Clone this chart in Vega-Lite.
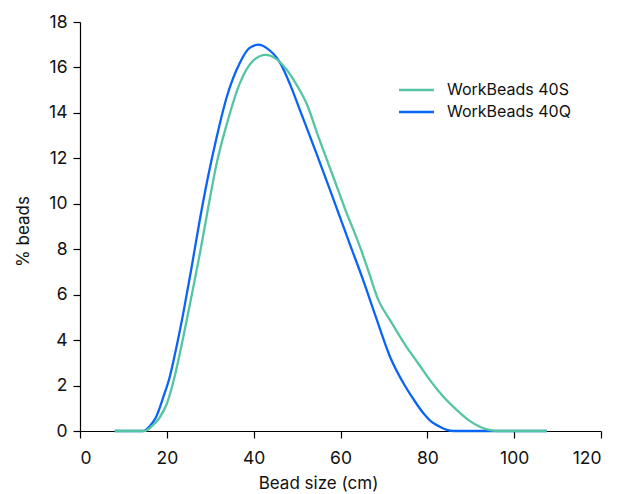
{
  "$schema": "https://vega.github.io/schema/vega-lite/v6.json",
  "autosize": "none",
  "width": 521,
  "height": 409,
  "padding": {"left": 80, "top": 22, "right": 16, "bottom": 63},
  "background": "white",
  "config": {
    "view": {"stroke": null},
    "font": "Inter",
    "axis": {
      "domainColor": "#000000",
      "domainWidth": 1.2,
      "tickColor": "#000000",
      "tickWidth": 1.2,
      "tickSize": 7,
      "labelFont": "Inter",
      "labelFontSize": 17.5,
      "labelColor": "#111111",
      "titleFont": "Inter",
      "titleFontSize": 17,
      "titleFontWeight": "normal",
      "titleColor": "#111111",
      "grid": false
    },
    "legend": {
      "labelFont": "Inter",
      "labelFontSize": 16,
      "labelColor": "#111111"
    }
  },
  "data": {
    "values": [
      {"series": "WorkBeads 40Q", "size": 8, "pct": 0},
      {"series": "WorkBeads 40Q", "size": 14.5, "pct": 0},
      {"series": "WorkBeads 40Q", "size": 16, "pct": 0.2},
      {"series": "WorkBeads 40Q", "size": 17.5, "pct": 0.6},
      {"series": "WorkBeads 40Q", "size": 19.2, "pct": 1.5},
      {"series": "WorkBeads 40Q", "size": 20.7, "pct": 2.4},
      {"series": "WorkBeads 40Q", "size": 22, "pct": 3.5},
      {"series": "WorkBeads 40Q", "size": 23.8, "pct": 5.2},
      {"series": "WorkBeads 40Q", "size": 25.7, "pct": 7.2},
      {"series": "WorkBeads 40Q", "size": 27.6, "pct": 9.3},
      {"series": "WorkBeads 40Q", "size": 29.5, "pct": 11.2},
      {"series": "WorkBeads 40Q", "size": 31.5, "pct": 12.95},
      {"series": "WorkBeads 40Q", "size": 33.8, "pct": 14.7},
      {"series": "WorkBeads 40Q", "size": 36.8, "pct": 16.2},
      {"series": "WorkBeads 40Q", "size": 39, "pct": 16.85},
      {"series": "WorkBeads 40Q", "size": 41.1, "pct": 17.0},
      {"series": "WorkBeads 40Q", "size": 43, "pct": 16.85},
      {"series": "WorkBeads 40Q", "size": 46.1, "pct": 16.2},
      {"series": "WorkBeads 40Q", "size": 48.5, "pct": 15.2},
      {"series": "WorkBeads 40Q", "size": 50.7, "pct": 14.1},
      {"series": "WorkBeads 40Q", "size": 54.5, "pct": 12.2},
      {"series": "WorkBeads 40Q", "size": 57.6, "pct": 10.6},
      {"series": "WorkBeads 40Q", "size": 59.9, "pct": 9.4},
      {"series": "WorkBeads 40Q", "size": 62, "pct": 8.3},
      {"series": "WorkBeads 40Q", "size": 65.2, "pct": 6.65},
      {"series": "WorkBeads 40Q", "size": 68, "pct": 5.1},
      {"series": "WorkBeads 40Q", "size": 71.4, "pct": 3.27},
      {"series": "WorkBeads 40Q", "size": 74.5, "pct": 2.1},
      {"series": "WorkBeads 40Q", "size": 76.8, "pct": 1.4},
      {"series": "WorkBeads 40Q", "size": 79.1, "pct": 0.78},
      {"series": "WorkBeads 40Q", "size": 81, "pct": 0.4},
      {"series": "WorkBeads 40Q", "size": 82.9, "pct": 0.19},
      {"series": "WorkBeads 40Q", "size": 84.5, "pct": 0.05},
      {"series": "WorkBeads 40Q", "size": 86, "pct": 0},
      {"series": "WorkBeads 40Q", "size": 107.5, "pct": 0},
      {"series": "WorkBeads 40S", "size": 8, "pct": 0},
      {"series": "WorkBeads 40S", "size": 14.8, "pct": 0},
      {"series": "WorkBeads 40S", "size": 16.5, "pct": 0.2},
      {"series": "WorkBeads 40S", "size": 18.2, "pct": 0.55},
      {"series": "WorkBeads 40S", "size": 20, "pct": 1.2},
      {"series": "WorkBeads 40S", "size": 21.8, "pct": 2.4},
      {"series": "WorkBeads 40S", "size": 23.8, "pct": 4.15},
      {"series": "WorkBeads 40S", "size": 25.7, "pct": 5.95},
      {"series": "WorkBeads 40S", "size": 27.6, "pct": 7.8},
      {"series": "WorkBeads 40S", "size": 29.5, "pct": 9.8},
      {"series": "WorkBeads 40S", "size": 31.5, "pct": 11.8},
      {"series": "WorkBeads 40S", "size": 33.8, "pct": 13.5},
      {"series": "WorkBeads 40S", "size": 36.8, "pct": 15.3},
      {"series": "WorkBeads 40S", "size": 39.9, "pct": 16.3},
      {"series": "WorkBeads 40S", "size": 42.8, "pct": 16.55},
      {"series": "WorkBeads 40S", "size": 45, "pct": 16.4},
      {"series": "WorkBeads 40S", "size": 47.6, "pct": 15.9},
      {"series": "WorkBeads 40S", "size": 50, "pct": 15.2},
      {"series": "WorkBeads 40S", "size": 52.2, "pct": 14.4},
      {"series": "WorkBeads 40S", "size": 55, "pct": 12.9},
      {"series": "WorkBeads 40S", "size": 58.3, "pct": 11.2},
      {"series": "WorkBeads 40S", "size": 61, "pct": 9.8},
      {"series": "WorkBeads 40S", "size": 64.5, "pct": 8.1},
      {"series": "WorkBeads 40S", "size": 66.5, "pct": 7.0},
      {"series": "WorkBeads 40S", "size": 68.7, "pct": 5.77},
      {"series": "WorkBeads 40S", "size": 71.5, "pct": 4.85},
      {"series": "WorkBeads 40S", "size": 75.2, "pct": 3.7},
      {"series": "WorkBeads 40S", "size": 78, "pct": 2.95},
      {"series": "WorkBeads 40S", "size": 80.6, "pct": 2.24},
      {"series": "WorkBeads 40S", "size": 83.5, "pct": 1.55},
      {"series": "WorkBeads 40S", "size": 86.8, "pct": 0.92},
      {"series": "WorkBeads 40S", "size": 89.5, "pct": 0.48},
      {"series": "WorkBeads 40S", "size": 92.1, "pct": 0.19},
      {"series": "WorkBeads 40S", "size": 94, "pct": 0.06},
      {"series": "WorkBeads 40S", "size": 96, "pct": 0},
      {"series": "WorkBeads 40S", "size": 107.5, "pct": 0}
    ]
  },
  "mark": {"type": "line", "interpolate": "monotone", "strokeWidth": 2.3},
  "encoding": {
    "x": {
      "field": "size",
      "type": "quantitative",
      "scale": {"domain": [0, 120], "nice": false, "zero": false},
      "axis": {
        "values": [0, 20, 40, 60, 80, 100, 120],
        "title": "Bead size (cm)",
        "labelPadding": 11,
        "titleX": 238,
        "titleY": 57.5,
        "titleAlign": "center",
        "titleBaseline": "alphabetic"
      }
    },
    "y": {
      "field": "pct",
      "type": "quantitative",
      "scale": {"domain": [0, 18], "nice": false},
      "axis": {
        "values": [0, 2, 4, 6, 8, 10, 12, 14, 16, 18],
        "title": "% beads",
        "labelPadding": 6,
        "titleX": -52,
        "titleY": 209,
        "titleAlign": "center",
        "titleBaseline": "alphabetic",
        "titleAngle": 270
      }
    },
    "color": {
      "field": "series",
      "type": "nominal",
      "scale": {"domain": ["WorkBeads 40S", "WorkBeads 40Q"], "range": ["#55c4a2", "#0a64f5"]},
      "legend": {
        "title": null,
        "orient": "none",
        "legendX": 326.5,
        "legendY": 58,
        "symbolType": "M-2,0H2",
        "symbolSize": 306,
        "symbolStrokeWidth": 2.3,
        "labelOffset": 20.5,
        "rowPadding": 4
      }
    }
  }
}
